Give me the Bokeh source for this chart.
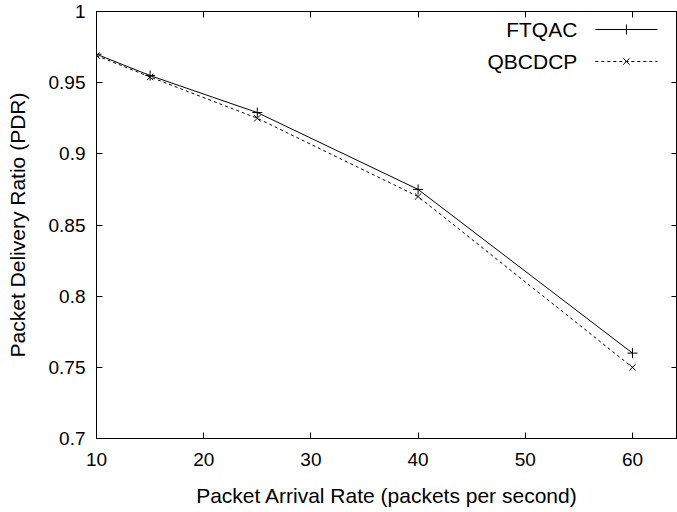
from bokeh.plotting import figure
from bokeh.models import Range1d, LinearAxis, FixedTicker
from bokeh.core.properties import value
from bokeh.embed import file_html
from bokeh.resources import INLINE

# ---- data ----
rates = [10, 15, 25, 40, 60]
ftqac = [0.970, 0.955, 0.929, 0.875, 0.760]
qbcdcp = [0.969, 0.954, 0.925, 0.870, 0.750]
x_ticks = [10, 20, 30, 40, 50, 60]
y_ticks = [0.7, 0.75, 0.8, 0.85, 0.9, 0.95, 1.0]
y_tick_labels = {0.7: "0.7", 0.75: "0.75", 0.8: "0.8", 0.85: "0.85",
                 0.9: "0.9", 0.95: "0.95", 1.0: "1"}
series_names = ["FTQAC", "QBCDCP"]

FONT = "Liberation Sans"
X0, X1 = 10, 64.2
Y0, Y1 = 0.7, 1.0
FW, FH = 580.0, 427.0  # frame size in px

p = figure(width=677, height=512, output_backend="svg", toolbar_location=None,
           x_range=Range1d(X0, X1), y_range=Range1d(Y0, Y1),
           min_border_left=96, min_border_right=0, min_border_top=11,
           min_border_bottom=74)
p.grid.visible = False
p.outline_line_color = "black"
p.outline_line_width = 1
p.background_fill_color = "white"
p.border_fill_color = "white"

p.xaxis.ticker = FixedTicker(ticks=x_ticks)
p.yaxis.ticker = FixedTicker(ticks=y_ticks)
p.yaxis.major_label_overrides = y_tick_labels
for ax in (p.xaxis[0], p.yaxis[0]):
    ax.major_tick_in = 6
    ax.major_tick_out = 0
    ax.minor_tick_in = 0
    ax.minor_tick_out = 0
    ax.axis_line_color = "black"
    ax.major_tick_line_color = "black"
    ax.major_label_text_font = FONT
    ax.major_label_text_font_size = "19px"
    ax.major_label_text_color = "black"
    ax.axis_label_text_font = FONT
    ax.axis_label_text_font_size = "21px"
    ax.axis_label_text_font_style = "normal"
    ax.axis_label_text_color = "black"
p.xaxis.major_label_standoff = 14
p.yaxis.major_label_standoff = 11
p.xaxis.axis_label = "Packet Arrival Rate (packets per second)"
p.yaxis.axis_label = "Packet Delivery Ratio (PDR)"
p.xaxis.axis_label_standoff = 15
p.yaxis.axis_label_standoff = 17

# mirrored ticks (no labels)
empty_x = {t: "" for t in x_ticks}
empty_y = {t: "" for t in y_ticks}
top = LinearAxis(ticker=FixedTicker(ticks=x_ticks), major_tick_in=6, major_tick_out=0,
                 minor_tick_in=0, minor_tick_out=0, major_label_overrides=empty_x,
                 major_label_standoff=0, axis_line_color="black")
right = LinearAxis(ticker=FixedTicker(ticks=y_ticks), major_tick_in=6, major_tick_out=0,
                   minor_tick_in=0, minor_tick_out=0, major_label_overrides=empty_y,
                   major_label_standoff=0, axis_line_color="black")
p.add_layout(top, "above")
p.add_layout(right, "right")

# series
p.line(rates, ftqac, line_color="black", line_width=1)
p.scatter(rates, ftqac, marker="cross", size=10, line_color="black", line_width=1)
p.line(rates, qbcdcp, line_color="black", line_width=1, line_dash="3 3")
p.scatter(rates, qbcdcp, marker="x", size=9, line_color="black", line_width=1)

# legend (text left of sample, gnuplot style), positioned relative to ranges
sx = (X1 - X0) / FW
sy = (Y1 - Y0) / FH
lx0 = X1 - 82 * sx
lx1 = X1 - 20 * sx
lxm = (lx0 + lx1) / 2
ltx = lx0 - 18 * sx
ly = [Y1 - 18 * sy, Y1 - 50 * sy]
p.line([lx0, lx1], [ly[0], ly[0]], line_color="black", line_width=1)
p.scatter([lxm], [ly[0]], marker="cross", size=10, line_color="black", line_width=1)
p.line([lx0, lx1], [ly[1], ly[1]], line_color="black", line_width=1, line_dash="3 3")
p.scatter([lxm], [ly[1]], marker="x", size=9, line_color="black", line_width=1)
p.text([ltx, ltx], ly, text=series_names, text_align="right", text_baseline="middle",
       text_font=value(FONT), text_font_size="21px", text_color="black")

open("out.html", "w").write(file_html(p, INLINE))
